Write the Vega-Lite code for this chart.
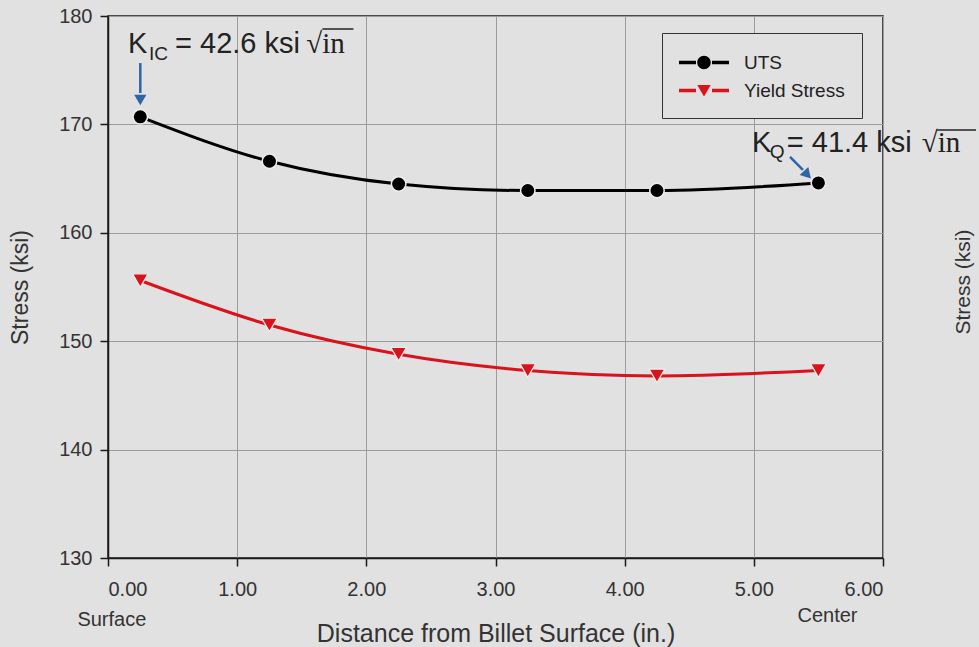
{
  "$schema": "https://vega.github.io/schema/vega-lite/v6.json",
  "width": 775,
  "height": 542,
  "autosize": {"type": "none"},
  "padding": {"left": 108, "top": 16, "right": 96, "bottom": 89},
  "background": "#e1e1e1",
  "config": {
    "font": "Liberation Sans",
    "view": {"stroke": "#1a1a1a", "strokeWidth": 1.5, "fill": "#e1e1e1"},
    "axis": {
      "domainColor": "#1a1a1a",
      "domainWidth": 1.5,
      "tickColor": "#1a1a1a",
      "tickWidth": 1.5,
      "tickSize": 8,
      "gridColor": "#9c9c9c",
      "gridWidth": 1,
      "labelColor": "#333333",
      "titleColor": "#333333",
      "labelFont": "Liberation Sans",
      "titleFont": "Liberation Sans",
      "titleFontWeight": "normal"
    }
  },
  "datasets": {
    "points": [
      {"series": "UTS", "x": 0.25, "y": 170.7},
      {"series": "UTS", "x": 1.25, "y": 166.6},
      {"series": "UTS", "x": 2.25, "y": 164.5},
      {"series": "UTS", "x": 3.25, "y": 163.9},
      {"series": "UTS", "x": 4.25, "y": 163.9},
      {"series": "UTS", "x": 5.5, "y": 164.6},
      {"series": "Yield Stress", "x": 0.25, "y": 155.6},
      {"series": "Yield Stress", "x": 1.25, "y": 151.5},
      {"series": "Yield Stress", "x": 2.25, "y": 148.8},
      {"series": "Yield Stress", "x": 3.25, "y": 147.3},
      {"series": "Yield Stress", "x": 4.25, "y": 146.8},
      {"series": "Yield Stress", "x": 5.5, "y": 147.3}
    ],
    "arrows": [
      {"x": 0.25, "y": 175.66, "x2": 0.25, "y2": 172.9},
      {"x": 5.28, "y": 167.0, "x2": 5.38, "y2": 165.8}
    ],
    "head_down": [{"x": 0.25, "y": 172.25}],
    "head_diag": [{"x": 5.415, "y": 165.35}],
    "big_text": [
      {"x": 0.155, "y": 176.59, "text": "K"},
      {"x": 0.519, "y": 176.59, "text": "= 42.6 ksi"},
      {"x": 4.985, "y": 167.45, "text": "K"},
      {"x": 5.255, "y": 167.45, "text": "= 41.4 ksi"}
    ],
    "sub_text": [
      {"x": 0.317, "y": 175.94, "text": "IC"},
      {"x": 5.124, "y": 166.9, "text": "Q"}
    ],
    "sqrt_text": [
      {"x": 1.535, "y": 176.59, "text": "√in"},
      {"x": 6.3, "y": 167.45, "text": "√in"}
    ],
    "overlines": [
      {"x": 1.66, "x2": 1.9, "y": 178.8},
      {"x": 6.42, "x2": 6.72, "y": 169.48}
    ],
    "end_labels": [
      {"x": 0.03, "y": 124.28, "text": "Surface"},
      {"x": 5.57, "y": 124.65, "text": "Center"}
    ],
    "fragment": [
      {"x": 6.63, "y": 155.46, "text": "Stress (ksi)"}
    ]
  },
  "encoding": {
    "x": {
      "field": "x",
      "type": "quantitative",
      "scale": {"domain": [0, 6], "nice": false, "zero": false},
      "axis": {
        "values": [0, 1, 2, 3, 4, 5, 6],
        "format": ".2f",
        "labelFontSize": 20,
        "labelPadding": 13,
        "title": "Distance from Billet Surface (in.)",
        "titleFontSize": 25,
        "titlePadding": 22
      }
    },
    "y": {
      "field": "y",
      "type": "quantitative",
      "scale": {"domain": [130, 180], "nice": false, "zero": false},
      "axis": {
        "values": [130, 140, 150, 160, 170, 180],
        "format": "d",
        "labelFontSize": 20,
        "labelPadding": 8,
        "title": "Stress (ksi)",
        "titleFontSize": 23,
        "titlePadding": 26
      }
    }
  },
  "layer": [
    {
      "data": {"name": "points"},
      "transform": [{"filter": "datum.series === 'UTS'"}],
      "mark": {"type": "line", "color": "#000000", "strokeWidth": 3, "interpolate": "monotone"},
      "encoding": {}
    },
    {
      "data": {"name": "points"},
      "transform": [{"filter": "datum.series === 'Yield Stress'"}],
      "mark": {"type": "line", "color": "#d9121b", "strokeWidth": 3, "interpolate": "monotone"},
      "encoding": {}
    },
    {
      "data": {"name": "points"},
      "transform": [{"filter": "datum.series === 'UTS'"}],
      "mark": {"type": "point", "shape": "circle", "filled": true, "fill": "#000000", "size": 210, "stroke": "#eeeeee", "strokeWidth": 1.5, "opacity": 1}
    },
    {
      "data": {"name": "points"},
      "transform": [{"filter": "datum.series === 'Yield Stress'"}],
      "mark": {"type": "point", "shape": "triangle-down", "filled": true, "fill": "#d9121b", "size": 240, "stroke": "#eeeeee", "strokeWidth": 1.2, "opacity": 1}
    },
    {
      "data": {"name": "points"},
      "mark": {"type": "point", "filled": true, "opacity": 0, "size": 625},
      "encoding": {
        "color": {
          "field": "series",
          "type": "nominal",
          "scale": {"domain": ["UTS", "Yield Stress"], "range": ["#000000", "#d9121b"]},
          "legend": {
            "title": null,
            "orient": "none",
            "legendX": 554,
            "legendY": 17,
            "padding": 17,
            "strokeColor": "#333333",
            "fillColor": "#e1e1e1",
            "symbolSize": 625,
            "symbolStrokeWidth": 0,
            "symbolOpacity": 1,
            "labelFontSize": 19,
            "labelColor": "#222222",
            "labelFont": "Liberation Sans",
            "labelOffset": 40,
            "rowPadding": 5,
            "encode": {"symbols": {"update": {"opacity": {"value": 1}}}}
          }
        },
        "shape": {
          "field": "series",
          "type": "nominal",
          "scale": {
            "domain": ["UTS", "Yield Stress"],
            "range": [
              "M-1,-0.14H0.36V0.14H-1Z M1.64,-0.14H3V0.14H1.64Z M0.46,0A0.54,0.54 0 1,0 1.54,0A0.54,0.54 0 1,0 0.46,0Z",
              "M-1,-0.14H0.36V0.14H-1Z M1.64,-0.14H3V0.14H1.64Z M0.46,-0.44H1.54L1,0.48Z"
            ]
          },
          "legend": {
            "title": null,
            "orient": "none",
            "legendX": 554,
            "legendY": 17,
            "padding": 17,
            "strokeColor": "#333333",
            "fillColor": "#e1e1e1",
            "symbolSize": 625,
            "symbolStrokeWidth": 0,
            "symbolOpacity": 1,
            "labelFontSize": 19,
            "labelColor": "#222222",
            "labelFont": "Liberation Sans",
            "labelOffset": 40,
            "rowPadding": 5,
            "encode": {"symbols": {"update": {"opacity": {"value": 1}}}}
          }
        }
      }
    },
    {
      "data": {"name": "arrows"},
      "mark": {"type": "rule", "color": "#2e65a6", "strokeWidth": 2.5, "clip": false},
      "encoding": {
        "x2": {"field": "x2"},
        "y2": {"field": "y2"}
      }
    },
    {
      "data": {"name": "head_down"},
      "mark": {"type": "point", "shape": "triangle-down", "filled": true, "fill": "#2e65a6", "size": 150, "opacity": 1, "clip": false}
    },
    {
      "data": {"name": "head_diag"},
      "mark": {"type": "point", "shape": "triangle-up", "filled": true, "fill": "#2e65a6", "size": 140, "opacity": 1, "angle": 137, "clip": false}
    },
    {
      "data": {"name": "big_text"},
      "mark": {"type": "text", "font": "Liberation Sans", "fontSize": 29, "align": "left", "baseline": "alphabetic", "color": "#222222", "clip": false},
      "encoding": {"text": {"field": "text"}}
    },
    {
      "data": {"name": "sub_text"},
      "mark": {"type": "text", "font": "Liberation Sans", "fontSize": 19, "align": "left", "baseline": "alphabetic", "color": "#222222", "clip": false},
      "encoding": {"text": {"field": "text"}}
    },
    {
      "data": {"name": "sqrt_text"},
      "mark": {"type": "text", "font": "Liberation Serif", "fontSize": 29, "align": "left", "baseline": "alphabetic", "color": "#222222", "clip": false},
      "encoding": {"text": {"field": "text"}}
    },
    {
      "data": {"name": "overlines"},
      "mark": {"type": "rule", "color": "#222222", "strokeWidth": 1.5, "clip": false},
      "encoding": {"x2": {"field": "x2"}}
    },
    {
      "data": {"name": "end_labels"},
      "mark": {"type": "text", "font": "Liberation Sans", "fontSize": 20, "align": "center", "baseline": "middle", "color": "#333333", "clip": false},
      "encoding": {"text": {"field": "text"}}
    },
    {
      "data": {"name": "fragment"},
      "mark": {"type": "text", "font": "Liberation Sans", "fontSize": 21, "align": "center", "baseline": "middle", "angle": 270, "color": "#333333", "clip": false},
      "encoding": {"text": {"field": "text"}}
    }
  ]
}
